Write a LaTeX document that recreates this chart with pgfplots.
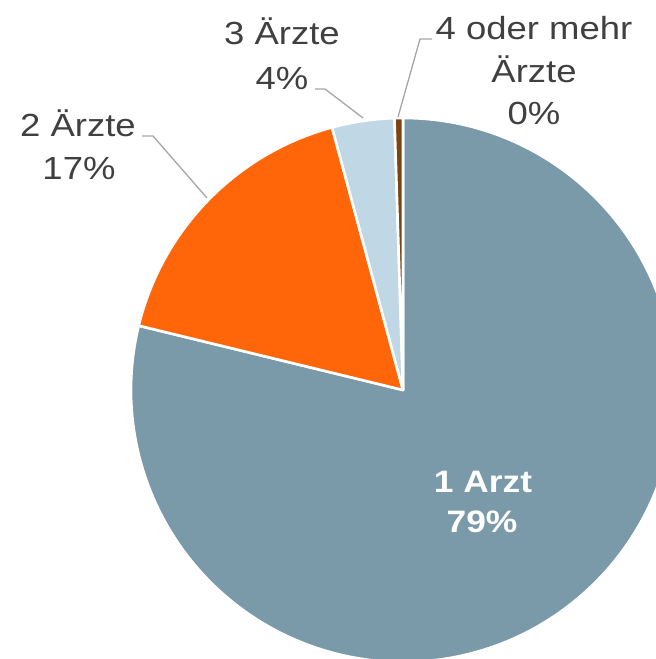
\documentclass[border=0pt]{standalone}
\usepackage{pgfplots}
\pgfplotsset{compat=1.18}
\usepackage{pgfplotstable}
\usepackage{fontspec}
\setmainfont{Liberation Sans}[FakeStretch=1.14]
\definecolor{cA}{HTML}{7A9AAA}
\definecolor{cB}{HTML}{FF6609}
\definecolor{cC}{HTML}{C0D8E5}
\definecolor{cD}{HTML}{7B4410}
\definecolor{txt}{HTML}{404040}
\definecolor{lead}{HTML}{A6A6A6}
\pgfplotstableread{
cat value
1 78.8
2 17.0
3 3.7
4 0.5
}\piedata
\pgfplotstablegetelem{0}{value}\of\piedata \pgfmathsetmacro\va{\pgfplotsretval}
\pgfplotstablegetelem{1}{value}\of\piedata \pgfmathsetmacro\vb{\pgfplotsretval}
\pgfplotstablegetelem{2}{value}\of\piedata \pgfmathsetmacro\vc{\pgfplotsretval}
\pgfplotstablegetelem{3}{value}\of\piedata \pgfmathsetmacro\vd{\pgfplotsretval}
\pgfmathsetmacro\aA{90}
\pgfmathsetmacro\aB{\aA-3.6*\va}
\pgfmathsetmacro\aC{\aB-3.6*\vb}
\pgfmathsetmacro\aD{\aC-3.6*\vc}
\pgfmathsetmacro\aE{\aD-3.6*\vd}
\begin{document}
\begin{tikzpicture}
\begin{axis}[x=1pt,y=1pt,xmin=0,xmax=656,ymin=0,ymax=659,hide axis,clip=true]
\filldraw[fill=cA,draw=white,line width=2.6pt,line join=round] (axis cs:403,269) -- ++(\aA:272pt) arc[start angle=\aA,end angle=\aB,radius=272pt] -- cycle;
\filldraw[fill=cB,draw=white,line width=2.6pt,line join=round] (axis cs:403,269) -- ++(\aB:272pt) arc[start angle=\aB,end angle=\aC,radius=272pt] -- cycle;
\filldraw[fill=cC,draw=white,line width=2.6pt,line join=round] (axis cs:403,269) -- ++(\aC:272pt) arc[start angle=\aC,end angle=\aD,radius=272pt] -- cycle;
\filldraw[fill=cD,draw=white,line width=2.6pt,line join=round] (axis cs:403,269) -- ++(\aD:272pt) arc[start angle=\aD,end angle=\aE,radius=272pt] -- cycle;
\draw[lead,line width=1.3pt] (axis cs:142,523) -- (axis cs:153,523) -- (axis cs:207,461);
\draw[lead,line width=1.3pt] (axis cs:315,570) -- (axis cs:325,570) -- (axis cs:363,541);
\draw[lead,line width=1.3pt] (axis cs:432,620) -- (axis cs:420,620) -- (axis cs:398,542);
\begin{scope}[every node/.style={anchor=base,inner sep=0pt,text=txt,font=\fontsize{32}{38}\selectfont}]
\node at (axis cs:78,522) {2 Ärzte};
\node at (axis cs:79,479) {17\%};
\node at (axis cs:282,614) {3 Ärzte};
\node at (axis cs:282,569) {4\%};
\node at (axis cs:534,619) {4 oder mehr};
\node at (axis cs:534,576) {Ärzte};
\node at (axis cs:534,534) {0\%};
\node[text=white,font=\fontsize{31}{38}\selectfont\bfseries] at (axis cs:483,166) {1 Arzt};
\node[text=white,font=\fontsize{31}{38}\selectfont\bfseries] at (axis cs:482,126) {79\%};
\end{scope}
\end{axis}
\pgfresetboundingbox
\path (current axis.south west) rectangle (current axis.north east);
\end{tikzpicture}
\end{document}
